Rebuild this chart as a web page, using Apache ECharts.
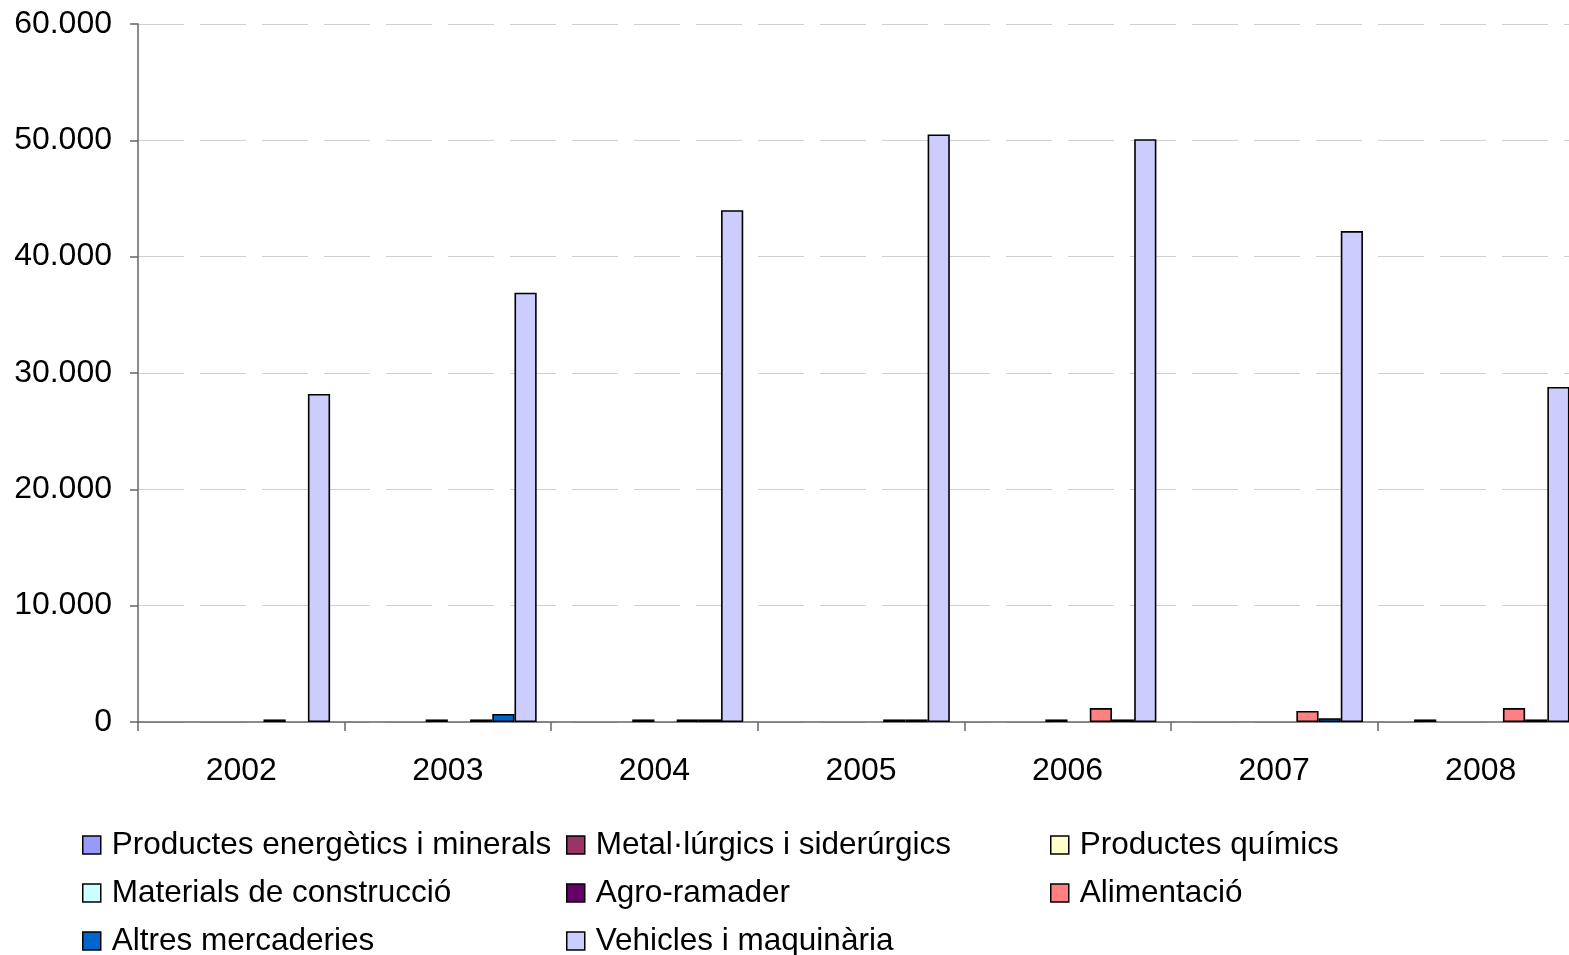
<!DOCTYPE html>
<html>
<head>
<meta charset="utf-8">
<script src="https://cdn.jsdelivr.net/npm/echarts@6/dist/echarts.min.js"></script>
<style>
html,body{margin:0;padding:0;background:#fff;}
#chart{width:1569px;height:955px;}
</style>
</head>
<body>
<div id="chart"></div>
<script>
const categories = ['2002','2003','2004','2005','2006','2007','2008'];
const seriesNames = ['Productes energètics i minerals','Metal·lúrgics i siderúrgics','Productes químics','Materials de construcció','Agro-ramader','Alimentació','Altres mercaderies','Vehicles i maquinària'];
const colors = ['#9999FF','#993366','#FFFFCC','#CCFFFF','#660066','#FF8080','#0066CC','#CCCCFF'];
const energetics = [null,null,null,null,null,null,null];
const metallurgics = [null,null,null,null,null,null,220];
const quimics = [null,null,null,null,null,null,null];
const materials = [null,220,220,null,220,null,null];
const agro = [null,null,null,null,null,null,null];
const alimentacio = [220,220,220,220,1200,950,1200];
const altres = [null,690,220,220,220,330,220];
const vehicles = [28200,36900,44000,50500,50100,42200,28800];
const yTicks = [0,10000,20000,30000,40000,50000,60000];

const dataSets = [energetics,metallurgics,quimics,materials,agro,alimentacio,altres,vehicles];
const chart = echarts.init(document.getElementById('chart'));
const fmt = v => v === 0 ? '0' : String(v).replace(/\B(?=(\d{3})+(?!\d))/g,'.');
const font = 'Liberation Sans, Arial, sans-serif';
const legendItem = (names, left) => ({
  orient:'vertical', left:left, top:829, height:200, padding:0,
  itemWidth:18, itemHeight:18, itemGap:16,
  icon:'rect', data:names.map(n=>({name:n, itemStyle:{borderColor:'#000',borderWidth:1.5}})),
  textStyle:{fontSize:31.5, fontFamily:font, color:'#000', padding:[0,0,0,6]},
  selectedMode:false
});
chart.setOption({
  animation:false,
  backgroundColor:'#fff',
  color:colors,
  grid:{left:138, top:24, width:1446, height:698, containLabel:false, outerBoundsMode:'none'},
  legend:[
    legendItem([seriesNames[0],seriesNames[3],seriesNames[6]], 82),
    legendItem([seriesNames[1],seriesNames[4],seriesNames[7]], 566),
    legendItem([seriesNames[2],seriesNames[5]], 1050)
  ],
  xAxis:{
    type:'category', data:categories,
    axisLine:{lineStyle:{color:'#666',width:1.5}},
    axisTick:{show:true, length:9, alignWithLabel:false, lineStyle:{color:'#666',width:1.5}},
    axisLabel:{fontSize:32, fontFamily:font, color:'#000', margin:33}
  },
  yAxis:{
    type:'value', min:0, max:60000, interval:10000,
    axisLine:{show:true, lineStyle:{color:'#666',width:1.5}},
    axisTick:{show:true, length:8, lineStyle:{color:'#666',width:1.5}},
    axisLabel:{fontSize:32, fontFamily:font, color:'#000', margin:26, formatter:fmt},
    splitLine:{show:true, lineStyle:{color:'#d0d0d0', width:1.2, type:[46,16]}}
  },
  series: dataSets.map((d,i)=>({
    name:seriesNames[i], type:'bar', data:d,
    barGap:'0%', barCategoryGap:'14%',
    itemStyle:{color:colors[i], borderColor:'#000', borderWidth:1.6}
  }))
});
</script>
</body>
</html>
